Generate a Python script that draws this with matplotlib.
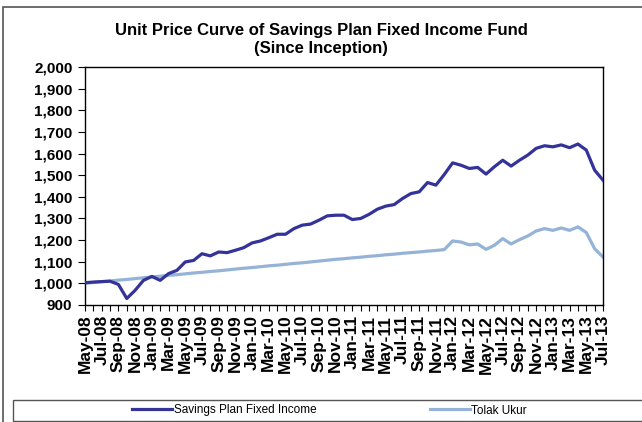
import numpy as np
import matplotlib
matplotlib.use('Agg')
import matplotlib.pyplot as plt
from matplotlib.patches import Rectangle
from matplotlib.ticker import FuncFormatter

plt.rcParams['font.family'] = ['Liberation Sans', 'DejaVu Sans']

# ==================== Data (monthly, May-08 .. Jul-13) ====================
MONTHS = ['Jan', 'Feb', 'Mar', 'Apr', 'May', 'Jun',
          'Jul', 'Aug', 'Sep', 'Oct', 'Nov', 'Dec']
month_labels = []
for year in range(2008, 2014):
    for m in MONTHS:
        month_labels.append(f"{m}-{str(year)[2:]}")
month_labels = month_labels[4:4 + 63]

fund_values = [1003, 1006, 1008, 1010, 995, 930, 968, 1014, 1032, 1014,
               1045, 1060, 1099, 1106, 1137, 1127, 1145, 1142, 1153, 1165,
               1187, 1196, 1211, 1227, 1227, 1253, 1269, 1274, 1292, 1312,
               1315, 1315, 1295, 1300, 1319, 1343, 1357, 1364, 1392, 1415,
               1423, 1466, 1454, 1503, 1557, 1546, 1531, 1536, 1505, 1539,
               1569, 1542, 1569, 1593, 1624, 1636, 1631, 1640, 1627, 1644,
               1616, 1523, 1477]

benchmark_values = [1000, 1004, 1008, 1011, 1015, 1018, 1022, 1026, 1030, 1033,
                    1037, 1040, 1044, 1048, 1051, 1055, 1058, 1062, 1066, 1070,
                    1073, 1077, 1081, 1084, 1088, 1092, 1095, 1099, 1103, 1107,
                    1111, 1114, 1118, 1121, 1125, 1128, 1132, 1135, 1139, 1142,
                    1145, 1149, 1152, 1156, 1196, 1191, 1178, 1182, 1157, 1176,
                    1207, 1182, 1202, 1219, 1242, 1253, 1245, 1256, 1245, 1261,
                    1235, 1160, 1122]

COLOR_FUND = '#333399'
COLOR_BENCH = '#95B3D7'

W, H = 642, 422
fig = plt.figure(figsize=(W / 100, H / 100), dpi=100)

# outer chart border (cropped on right/bottom like the source)
fig.add_artist(Rectangle((3 / W, -0.05), 1.1, (H - 6.5) / H + 0.05,
                         transform=fig.transFigure, fill=False,
                         edgecolor='#555555', linewidth=1.2))

ax = fig.add_axes([85 / W, 1 - 305 / H, (603 - 85) / W, (305 - 67) / H])

x = np.arange(len(month_labels))
ax.plot(x, fund_values, color=COLOR_FUND, linewidth=2.3,
        solid_joinstyle='round', label='Savings Plan Fixed Income', zorder=3)
ax.plot(x, benchmark_values, color=COLOR_BENCH, linewidth=2.3,
        solid_joinstyle='round', label='Tolak Ukur', zorder=2)

ax.set_xlim(0, len(month_labels) - 1)
ax.set_ylim(900, 2000)
ax.set_yticks(np.arange(900, 2001, 100))
ax.yaxis.set_major_formatter(FuncFormatter(lambda v, p: f"{int(v):,}"))

ax.set_xticks(x[::2])
ax.set_xticklabels(month_labels[::2], rotation=90, fontsize=12.5,
                   fontweight='bold')
ax.set_xticks(x, minor=True)
ax.tick_params(axis='x', which='both', direction='out', length=4, width=0.8,
               pad=3)
ax.tick_params(axis='y', direction='out', length=5, width=0.8, pad=4,
               labelsize=11)
for lbl in ax.get_yticklabels():
    lbl.set_fontweight('bold')

for sp in ax.spines.values():
    sp.set_linewidth(1.0)

fig.text(0.5, 1 - 30 / H, 'Unit Price Curve of Savings Plan Fixed Income Fund',
         ha='center', va='center', fontsize=12, fontweight='bold')
fig.text(0.5, 1 - 48 / H, '(Since Inception)',
         ha='center', va='center', fontsize=12, fontweight='bold')

# legend box
fig.add_artist(Rectangle((13 / W, 1 - 421 / H), 1.0, 21 / H,
                         transform=fig.transFigure, fill=False,
                         edgecolor='#555555', linewidth=1.0))
handles, labels = ax.get_legend_handles_labels()
fig.legend(handles, labels, loc='center', ncol=2,
           bbox_to_anchor=(0.513, 1 - 410.5 / H), frameon=False,
           fontsize=8.5, handlelength=3.4, handletextpad=0.1,
           columnspacing=9.6)

fig.savefig('out.png', dpi=100, facecolor='white')
